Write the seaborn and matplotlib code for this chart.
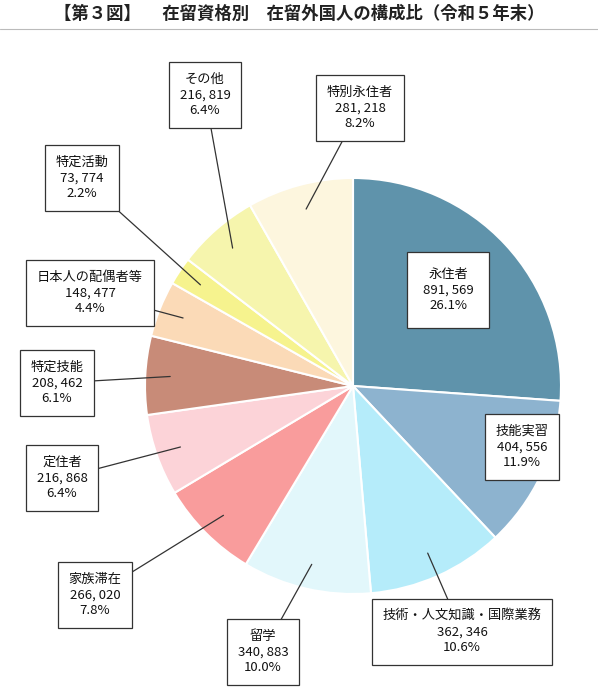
import numpy as np
import matplotlib.pyplot as plt
import seaborn as sns

sns.set_theme(style="white")
plt.rcParams['font.family'] = ['Noto Sans CJK JP', 'DejaVu Sans']

labels = ['永住者', '技能実習', '技術・人文知識・国際業務', '留学', '家族滞在', '定住者',
          '特定技能', '日本人の配偶者等', '特定活動', 'その他', '特別永住者']
counts = [891569, 404556, 362346, 340883, 266020, 216868, 208462, 148477, 73774, 216819, 281218]
shares = [26.1, 11.9, 10.6, 10.0, 7.8, 6.4, 6.1, 4.4, 2.2, 6.4, 8.2]
colors = ['#5f93ab', '#8db3cf', '#b5ecfa', '#e2f7fb', '#f99c9c', '#fcd3d8',
          '#c88b78', '#fbdab7', '#f6f38e', '#f6f5ad', '#fdf6de']
# label box centres in pixel coords (x, y from top)
box_pos = [(448, 290), (522, 447), (462, 632), (263, 652), (95, 595), (62, 478),
           (57, 383), (90, 293), (82, 178), (205, 95), (360, 108)]

fig = plt.figure(figsize=(5.98, 7), dpi=100)
ax = fig.add_axes([0, 0, 1, 1])

cx, cy, r = 353, 700 - 386, 208
wedges, _ = ax.pie(counts, colors=colors, startangle=90, counterclock=False,
                   center=(cx, cy), radius=r, frame=True,
                   wedgeprops=dict(edgecolor='white', linewidth=1.5))
ax.set_xlim(0, 598)
ax.set_ylim(0, 700)
ax.set_aspect('equal')
ax.axis('off')

for i, w in enumerate(wedges):
    bx, by = box_pos[i]
    by = 700 - by
    txt = f"{labels[i]}\n{counts[i]:,}".replace(',', ', ') + f"\n{shares[i]:.1f}%"
    if i > 0:
        ang = np.deg2rad((w.theta1 + w.theta2) / 2)
        px, py = cx + 0.88 * r * np.cos(ang), cy + 0.88 * r * np.sin(ang)
        ax.plot([bx, px], [by, py], color='#333333', lw=0.9, zorder=3)
    pad = 1.2 if i == 0 else 0.8
    ax.text(bx, by, txt, ha='center', va='center', fontsize=9.5, linespacing=1.25,
            zorder=5, color='#111111',
            bbox=dict(boxstyle=f'square,pad={pad}', fc='white', ec='#333333', lw=0.9))

fig.text(0.5, 1 - 14 / 700, '【第３図】　 在留資格別　在留外国人の構成比（令和５年末）',
         ha='center', va='center', fontsize=12.5, fontweight='bold', color='#222222')
ax.plot([0, 598], [700 - 29, 700 - 29], color='#bbbbbb', lw=0.8)

fig.savefig('out.png', dpi=100)
